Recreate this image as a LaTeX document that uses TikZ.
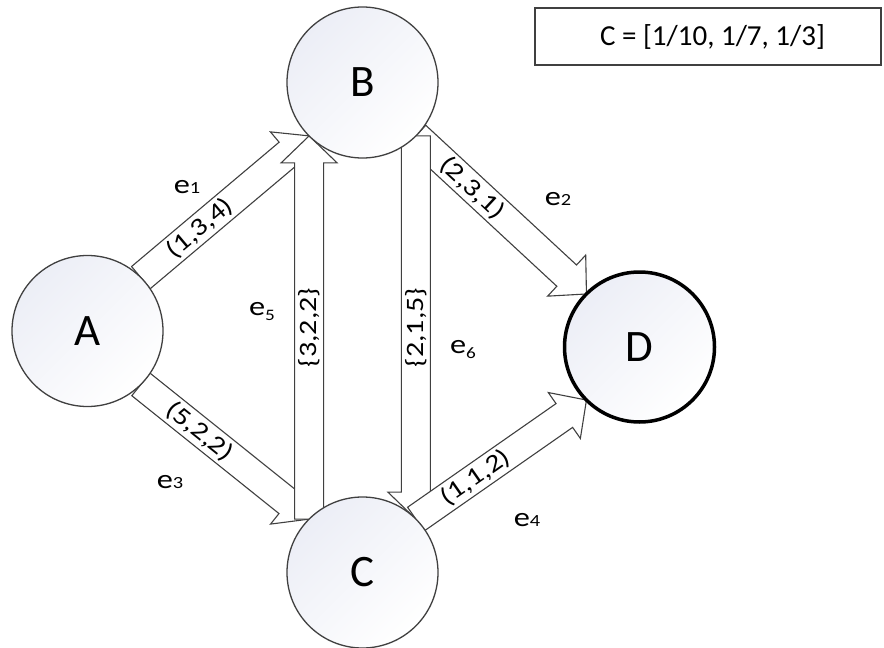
\documentclass[tikz,border=0pt]{standalone}
\usepackage{fontspec}
\setmainfont{Carlito}
\newfontfamily\labfont[FakeStretch=1.2]{Carlito}
\newfontfamily\efont[FakeStretch=1.2]{Carlito}
\usetikzlibrary{calc}
\pgfdeclarelayer{bg}
\pgfsetlayers{bg,main}
\definecolor{edgegray}{HTML}{404040}
\definecolor{fillblue}{HTML}{ECEEF6}
\tikzset{
 vertex/.style={circle, minimum size=151pt, inner sep=0pt, outer sep=0pt, draw=edgegray, line width=1.3pt, top color=fillblue, bottom color=white, shading angle=45, font=\fontsize{45}{45}\selectfont},
 sink/.style={vertex, draw=black, line width=3.5pt, minimum size=150pt},
 blockarrow/.style={draw=edgegray, fill=white, line width=1.1pt, line join=miter},
 weight/.style={font=\labfont\fontsize{25}{25}\selectfont, inner sep=0pt},
 elabel/.style={font=\efont\fontsize{27}{27}\selectfont, inner sep=0pt},
 legend/.style={draw=edgegray, line width=1.5pt, minimum width=346pt, minimum height=57pt, inner sep=0pt},
}
\newcommand\blockarr[2]{%
 \coordinate (hb) at ($(#2)!27pt!(#1)$);
 \draw[blockarrow] ($(#1)!14.5pt!90:(#2)$) -- ($(hb)!14.5pt!-90:(#1)$) -- ($(hb)!28pt!-90:(#1)$) -- (#2) -- ($(hb)!28pt!90:(#1)$) -- ($(hb)!14.5pt!90:(#1)$) -- ($(#1)!14.5pt!-90:(#2)$) -- cycle;}
\begin{document}
\begin{tikzpicture}[x=1pt,y=1pt]
\useasboundingbox (0,0) rectangle (884,-648);
\node[vertex] (A) at (87.5,-331) {A};
\node[vertex] (B) at (362.5,-82.5) {B};
\node[vertex] (C) at (362.5,-572.5) {C};
\node[sink] (D) at (639.5,-347) {D};
\begin{pgfonlayer}{bg}
\blockarr{A.north east}{B.south west}
\path (A.north east) -- (B.south west) node[weight, pos=0.35, sloped] (w1) {(1,3,4)};
\blockarr{B.south east}{D.north west}
\path (B.south east) -- (D.north west) node[weight, pos=0.33, sloped] (w2) {(2,3,1)};
\blockarr{A.south east}{C.north west}
\path (A.south east) -- (C.north west) node[weight, pos=0.35, sloped] (w3) {(5,2,2)};
\blockarr{B.south east}{C.north east}
\path (B.south east) -- (C.north east) node[weight, pos=0.5, rotate=90] (w6) {\{2,1,5\}};
\blockarr{C.north east}{D.south west}
\path (C.north east) -- (D.south west) node[weight, pos=0.35, sloped] (w4) {(1,1,2)};
\blockarr{C.north west}{B.south west}
\path (C.north west) -- (B.south west) node[weight, pos=0.5, rotate=90] (w5) {\{3,2,2\}};
\end{pgfonlayer}
\node[elabel] (e1) at (187,-187) {e{\fontsize{17}{17}\selectfont 1}};
\node[elabel] (e2) at (558,-199) {e{\fontsize{17}{17}\selectfont 2}};
\node[elabel] (e3) at (170,-482) {e{\fontsize{17}{17}\selectfont 3}};
\node[elabel] (e4) at (527,-520) {e{\fontsize{17}{17}\selectfont 4}};
\node[elabel] (e5) at (262,-312) {e\raisebox{-5pt}{\fontsize{16}{16}\selectfont 5}};
\node[elabel] (e6) at (463,-350) {e\raisebox{-5pt}{\fontsize{16}{16}\selectfont 6}};
\node[legend] (legend) at (708,-36.5) {};
\node[font=\fontsize{29}{29}\selectfont, inner sep=0pt] (formula) at (712.5,-37) {C = [1/10, 1/7, 1/3]};
\end{tikzpicture}
\end{document}
